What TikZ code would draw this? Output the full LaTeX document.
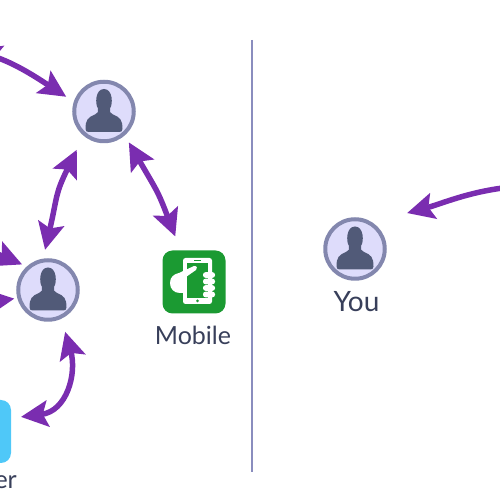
\documentclass[tikz,border=0pt]{standalone}
\usepackage{fontspec}
\setmainfont{Lato}
\usetikzlibrary{positioning,arrows.meta}
\definecolor{linkpurple}{HTML}{7A2DB0}
\definecolor{ringblue}{HTML}{8387AE}
\definecolor{discfill}{HTML}{DEDCFB}
\definecolor{bodyslate}{HTML}{515A78}
\definecolor{captionink}{HTML}{383F5A}
\definecolor{phonegreen}{HTML}{1B9A32}
\definecolor{serverblue}{HTML}{4FC8F8}
\definecolor{dividerblue}{HTML}{8A8DBE}
\tikzset{
	persondisc/.style={circle, draw=ringblue, fill=discfill, line width=4pt, minimum size=59.5pt, inner sep=0pt, outer sep=2pt},
	appbox/.style={rounded corners=10pt, minimum size=63pt, inner sep=0pt, outer sep=0pt},
	captiontext/.style={font=\fontsize{25}{29}\selectfont, text=captionink, inner sep=0pt},
	link/.style={draw=linkpurple, line width=5.5pt, {Stealth[length=27pt,width=26pt,inset=5pt]}-{Stealth[length=27pt,width=26pt,inset=5pt]}},
	divider/.style={draw=dividerblue, line width=2.5pt},
}
\begin{document}
\begin{tikzpicture}[x=1pt, y=1pt]
\path[use as bounding box, clip] (0,0) rectangle (500,500);

\node[persondisc] (userTop) at (104,388.5) {};
\node[persondisc] (userMid) at (48,210) {};
\node[persondisc] (you)     at (355,251) {};
\node[appbox, fill=phonegreen] (mobile) at (194,218) {};
\node[appbox, fill=serverblue] (server) at (-20.5,68.5) {};

\node[captiontext, font=\fontsize{28}{32}\selectfont, below=10pt of you, xshift=1.5pt] (youLabel) {You};
\node[captiontext, below=12pt of mobile, xshift=-1pt] (mobileLabel) {Mobile};
\node[captiontext, anchor=base east] (serverLabel) at (17,12) {er};

\foreach \who in {userTop,userMid,you}{
	\fill[bodyslate, shift={(\who.center)}] (-18.5,-17.5)
		.. controls (-18.5,-8) and (-16,-6) .. (-9,-3)
		.. controls (-6,-2) and (-5.5,0) .. (-6,3)
		.. controls (-9,7) and (-9,22.5) .. (0,22.5)
		.. controls (9,22.5) and (9,7) .. (6,3)
		.. controls (5.5,0) and (6,-2) .. (9,-3)
		.. controls (16,-6) and (18.5,-8) .. (18.5,-17.5)
		.. controls (18.5,-20) and (17,-20.5) .. (15,-20.5)
		-- (-15,-20.5)
		.. controls (-17,-20.5) and (-18.5,-20) .. (-18.5,-17.5) -- cycle;
}

\begin{scope}[shift={(mobile.center)}]
	\fill[white, rounded corners=2.5pt] (-11,-22) rectangle (18,24);
	\fill[phonegreen] (-7,-16) rectangle (14,19);
	\fill[phonegreen] (0,21) rectangle (7,22);
	\fill[phonegreen] (3.5,-19) circle (1.5);
	\fill[white] (-24,-1) .. controls (-24,5) and (-20,8) .. (-15,9)
		-- (0,16) .. controls (3,16.5) and (4,13) .. (2,12)
		-- (-8,5) -- (-8,-11) -- (-14,-11)
		.. controls (-20,-11) and (-24,-7) .. (-24,-1) -- cycle;
	\foreach \fy in {7,0.5,-6,-12.5}{
		\fill[white, rounded corners=2.5pt] (9,\fy-2.8) rectangle (21,\fy+2.8);
	}
\end{scope}

\coordinate (topLeftEnd) at (-26,450);
\coordinate (midLeftEndA) at (-80,270);
\coordinate (midLeftEndB) at (-80,180);
\coordinate (youRightEnd) at (560,313);
\coordinate (dividerTop) at (252,460);
\coordinate (dividerBottom) at (252,28);

\draw[divider] (dividerTop) -- (dividerBottom);

\draw[link, shorten >=9pt] (topLeftEnd) to[out=-18,in=147] (userTop.162);
\draw[link, shorten <=15.5pt, shorten >=9pt] (userTop.230) to[out=244,in=77,looseness=1.3] (userMid.99);
\draw[link, shorten <=8pt, shorten >=15pt] (userTop.311) to[out=300,in=111,looseness=1.3] (mobile.113);
\draw[link, shorten >=5pt] (midLeftEndA) to[out=-10,in=157] (userMid.132);
\draw[link, shorten >=3pt] (midLeftEndB) to[out=5,in=188] (userMid.195);
\draw[link, shorten <=13.5pt, shorten >=10pt] (userMid.295) to[out=286,in=7,looseness=1.3] (server.23);
\draw[link, shorten >=36pt] (youRightEnd) to[out=178,in=15] (you.57);
\end{tikzpicture}
\end{document}
